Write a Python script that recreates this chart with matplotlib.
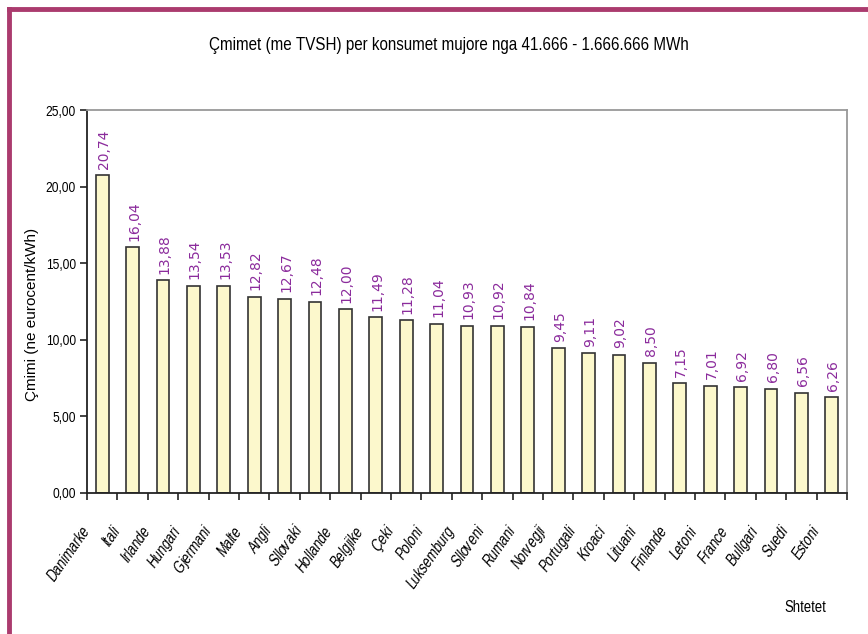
import matplotlib
matplotlib.use("Agg")
import matplotlib.pyplot as plt
from matplotlib import font_manager
from matplotlib.lines import Line2D
from matplotlib.transforms import ScaledTranslation

countries = ["Danimarke", "Itali", "Irlande", "Hungari", "Gjermani", "Malte", "Angli",
             "Sllovaki", "Hollande", "Belgjike", "Çeki", "Poloni", "Luksemburg", "Slloveni",
             "Rumani", "Norvegji", "Portugali", "Kroaci", "Lituani", "Finlande", "Letoni",
             "France", "Bullgari", "Suedi", "Estoni"]
prices = [20.74, 16.04, 13.88, 13.54, 13.53, 12.82, 12.67, 12.48, 12.00, 11.49, 11.28,
          11.04, 10.93, 10.92, 10.84, 9.45, 9.11, 9.02, 8.50, 7.15, 7.01, 6.92, 6.80,
          6.56, 6.26]
yticks = [0, 5, 10, 15, 20, 25]


def build_narrow_font(name, factor=0.82, slant=0.0):
    """Write a condensed (optionally slanted) copy of Liberation Sans and register it."""
    from fontTools.ttLib import TTFont
    from fontTools.ttLib.tables import ttProgram
    src = font_manager.findfont(font_manager.FontProperties(family="Liberation Sans"),
                                fallback_to_default=False)
    font = TTFont(src)
    glyf = font["glyf"]
    for gname in font.getGlyphOrder():
        g = glyf[gname]
        if g.isComposite():
            for comp in g.components:
                comp.x = int(round(comp.x * factor + comp.y * slant))
        elif g.numberOfContours > 0:
            coords = g.coordinates
            for i in range(len(coords)):
                x, y = coords[i]
                coords[i] = (int(round(x * factor + y * slant)), y)
        if hasattr(g, "program"):
            g.program = ttProgram.Program()
            g.program.fromBytecode(b"")
    hmtx = font["hmtx"]
    for gname, (adv, lsb) in list(hmtx.metrics.items()):
        hmtx.metrics[gname] = (int(round(adv * factor)), int(round(lsb * factor)))
    for tag in ("fpgm", "prep", "cvt ", "hdmx", "LTSH", "VDMX", "kern", "GPOS"):
        if tag in font:
            del font[tag]
    for rec in font["name"].names:
        if rec.nameID in (1, 4, 16):
            rec.string = name
        elif rec.nameID == 6:
            rec.string = name.replace(" ", "")
    out = name.replace(" ", "_") + ".ttf"
    font.save(out)
    font_manager.fontManager.addfont(out)
    return name


try:
    NARROW = build_narrow_font("Synth Sans Narrow")
    NARROW_IT = build_narrow_font("Synth Sans Narrow Slanted", slant=0.21)
except Exception:
    NARROW, NARROW_IT = "Liberation Sans", "Liberation Sans"

plt.rcParams['font.family'] = [NARROW, 'Liberation Sans', 'DejaVu Sans']

fig = plt.figure(figsize=(8.68, 6.34), dpi=100)
fig.patch.set_facecolor("white")

# frame around the figure (top and left edges)
border = "#ab3b6e"
fig.add_artist(Line2D([9/868, 9/868], [0, 1 - 9/634], transform=fig.transFigure,
                      color=border, lw=3.5))
fig.add_artist(Line2D([9/868, 1], [1 - 9/634, 1 - 9/634], transform=fig.transFigure,
                      color=border, lw=3.5))

ax = fig.add_axes([87/868, 1 - 493/634, (847 - 87)/868, (493 - 110)/634])
x = range(len(countries))
ax.bar(x, prices, width=0.42, color="#fcf8cc", edgecolor="#333333", linewidth=1.2)

for xi, v in zip(x, prices):
    ax.text(xi + 0.05, v + 0.42, f"{v:.2f}".replace(".", ","), rotation=90,
            ha="center", va="bottom", color="#8b2b9c", fontsize=10,
            family=['DejaVu Sans'])

ax.set_xlim(-0.5, len(countries) - 0.5)
ax.set_ylim(0, 25)
ax.set_yticks(yticks)
ax.set_yticklabels([f"{t:.2f}".replace(".", ",") for t in yticks], fontsize=10.5)
ax.set_xticks([i - 0.5 for i in range(len(countries) + 1)], minor=False)
ax.set_xticklabels([])
ax.set_xticks(list(x), minor=True)
ax.set_xticklabels(countries, minor=True, rotation=55, ha="right", va="top",
                   fontsize=11.5, family=[NARROW_IT, 'Liberation Sans', 'DejaVu Sans'])
ax.tick_params(axis="x", which="minor", length=0, pad=22)
ax.tick_params(axis="x", which="major", direction="out", length=5, width=1.2, color="#222222")
ax.tick_params(axis="y", direction="out", length=5, width=1.2, color="#222222", pad=3)
shift = ScaledTranslation(-10/100, 0, fig.dpi_scale_trans)
for lbl in ax.get_xticklabels(minor=True):
    lbl.set_transform(lbl.get_transform() + shift)

for side in ("left", "bottom"):
    ax.spines[side].set_color("#222222")
    ax.spines[side].set_linewidth(1.3)
for side in ("top", "right"):
    ax.spines[side].set_color("#999999")
    ax.spines[side].set_linewidth(1.3)

fig.text(32/868, 1 - 314/634, "Çmimi (ne eurocent/kWh)", rotation=90, ha="center",
         va="center", fontsize=11, family=['Liberation Sans', 'DejaVu Sans'])
fig.text(449/868, 1 - 46/634, "Çmimet (me TVSH) per konsumet mujore nga 41.666 - 1.666.666 MWh",
         ha="center", va="center", fontsize=13.3)
fig.text(805/868, 1 - 607/634, "Shtetet", ha="center", va="center", fontsize=11.5)

fig.savefig("out.png", dpi=100)
